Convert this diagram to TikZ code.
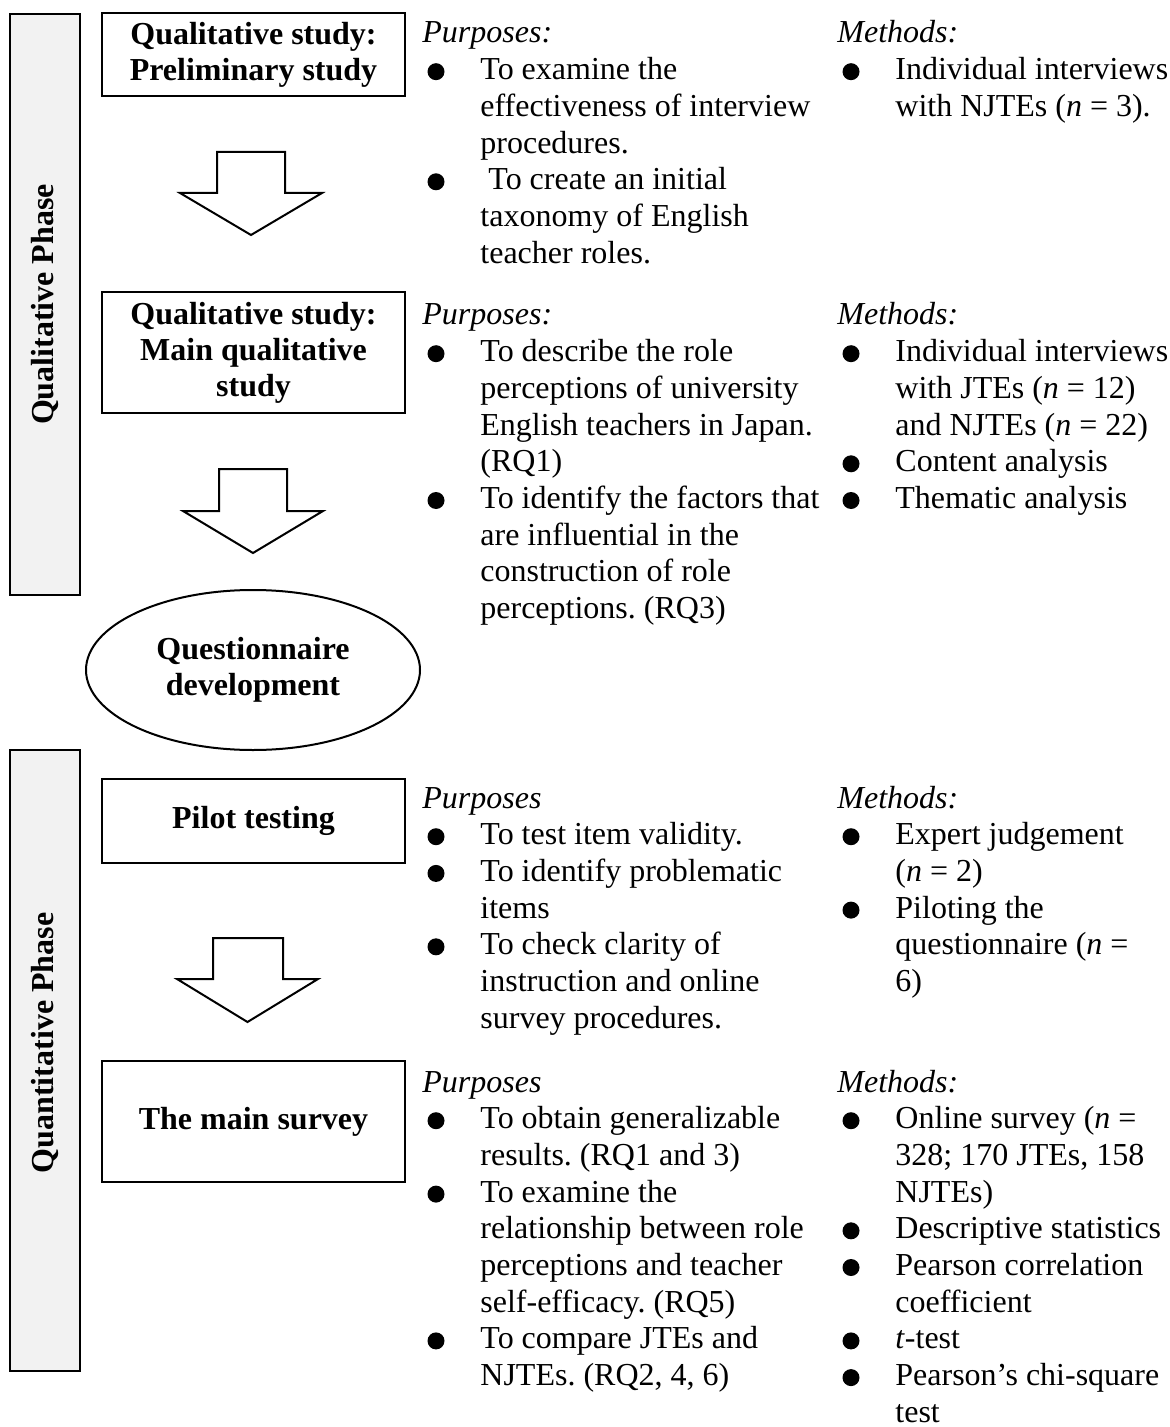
\documentclass[tikz,border=0pt]{standalone}
\usepackage{fontspec}
\setmainfont{Liberation Serif}
\usetikzlibrary{shapes.geometric}
\definecolor{barfill}{RGB}{242,242,242}
\newcommand\bodyfont{\fontsize{16}{18}\selectfont\frenchspacing}

\tikzset{
  box/.style={draw, line width=1pt, fill=white, align=center, inner sep=0pt,
              minimum width=151.5pt, font=\bodyfont\bfseries},
  oval/.style={ellipse, draw, line width=1pt, fill=white, align=center, inner sep=0pt,
               minimum width=167pt, minimum height=80pt, font=\bodyfont\bfseries},
  phasebar/.style={draw, line width=1pt, fill=barfill, inner sep=0pt, minimum width=35pt},
  phaselabel/.style={rotate=90, inner sep=0pt, font=\bodyfont\bfseries},
  txtline/.style={anchor=base west, inner sep=0pt, font=\bodyfont},
  headline/.style={txtline, font=\bodyfont\itshape},
  dot/.style={circle, fill=black, inner sep=0pt, minimum size=8.5pt},
  blockarrow/.style={draw, line width=1pt, fill=white, line join=miter},
}

% One text column: name, x of the item text, first baseline, list of kind/text
% (h = italic heading, b = bulleted line, c = continuation line)
\newcommand\textcol[4]{%
  \foreach \kind/\linetext [count=\i from 0] in {#4}{%
    \pgfmathsetmacro\yy{#3+36.7*\i}%
    \if\kind h%
      \node[headline] (#1-\i) at (#2-58,\yy) {\linetext};%
    \else
      \node[txtline] (#1-\i) at (#2,\yy) {\linetext};%
      \if\kind b%
        \node[dot] (#1-d\i) at (#2-44,\yy-8) {};%
      \fi
    \fi
  }%
}

\begin{document}
\begin{tikzpicture}[x=0.5pt, y=-0.5pt]
\useasboundingbox (0,0) rectangle (1169,1427);

% phase bars
\node[phasebar, minimum height=290.5pt] (qualbar) at (45,304.5) {};
\node[phaselabel] (quallabel) at (45,304.5) {Qualitative Phase};
\node[phasebar, minimum height=310.5pt] (quantbar) at (45,1060.5) {};
\node[phaselabel] (quantlabel) at (45,1043) {Quantitative Phase};

% study boxes
\node[box, minimum height=41.5pt] (prelim) at (253.5,54.5) {Qualitative study:\\Preliminary study};
\node[box, minimum height=60.5pt] (mainqual) at (253.5,352.5) {Qualitative study:\\Main qualitative\\study};
\node[oval] (quest) at (253,670) {Questionnaire\\development};
\node[box, minimum height=42pt] (pilot) at (253.5,821) {Pilot testing};
\node[box, minimum height=60.5pt] (survey) at (253.5,1121.5) {The main survey};

% block arrows between stages
\draw[blockarrow] (217,152) -- (285,152) -- (285,193) -- (322,193) -- (251,235)
  -- (180,193) -- (217,193) -- cycle;
\draw[blockarrow] (219,469) -- (287,469) -- (287,511) -- (323,511) -- (253,553)
  -- (183,511) -- (219,511) -- cycle;
\draw[blockarrow] (213,938) -- (283,938) -- (283,979) -- (318,979) -- (247.5,1022)
  -- (177,979) -- (213,979) -- cycle;

% preliminary study
\textcol{pa}{480}{43}{h/{Purposes:},
  b/{To examine the},
  c/{effectiveness of interview},
  c/{procedures.},
  b/{\ To create an initial},
  c/{taxonomy of English},
  c/{teacher roles.}}
\textcol{ma}{895}{43}{h/{Methods:},
  b/{Individual interviews},
  c/{with NJTEs (\textit{n} = 3).}}

% main qualitative study
\textcol{pb}{480}{325}{h/{Purposes:},
  b/{To describe the role},
  c/{perceptions of university},
  c/{English teachers in Japan.},
  c/{(RQ1)},
  b/{To identify the factors that},
  c/{are influential in the},
  c/{construction of role},
  c/{perceptions. (RQ3)}}
\textcol{mb}{895}{325}{h/{Methods:},
  b/{Individual interviews},
  c/{with JTEs (\textit{n} = 12)},
  c/{and NJTEs (\textit{n} = 22)},
  b/{Content analysis},
  b/{Thematic analysis}}

% pilot testing
\textcol{pc}{480}{808}{h/{Purposes},
  b/{To test item validity.},
  b/{To identify problematic},
  c/{items},
  b/{To check clarity of},
  c/{instruction and online},
  c/{survey procedures.}}
\textcol{mc}{895}{808}{h/{Methods:},
  b/{Expert judgement},
  c/{(\textit{n} = 2)},
  b/{Piloting the},
  c/{questionnaire (\textit{n} =},
  c/{6)}}

% main survey
\textcol{pd}{480}{1092}{h/{Purposes},
  b/{To obtain generalizable},
  c/{results. (RQ1 and 3)},
  b/{To examine the},
  c/{relationship between role},
  c/{perceptions and teacher},
  c/{self-efficacy. (RQ5)},
  b/{To compare JTEs and},
  c/{NJTEs. (RQ2, 4, 6)}}
\textcol{md}{895}{1092}{h/{Methods:},
  b/{Online survey (\textit{n} =},
  c/{328; 170 JTEs, 158},
  c/{NJTEs)},
  b/{Descriptive statistics},
  b/{Pearson correlation},
  c/{coefficient},
  b/{\textit{t}-test},
  b/{Pearson’s chi-square},
  c/{test}}
\end{tikzpicture}
\end{document}
